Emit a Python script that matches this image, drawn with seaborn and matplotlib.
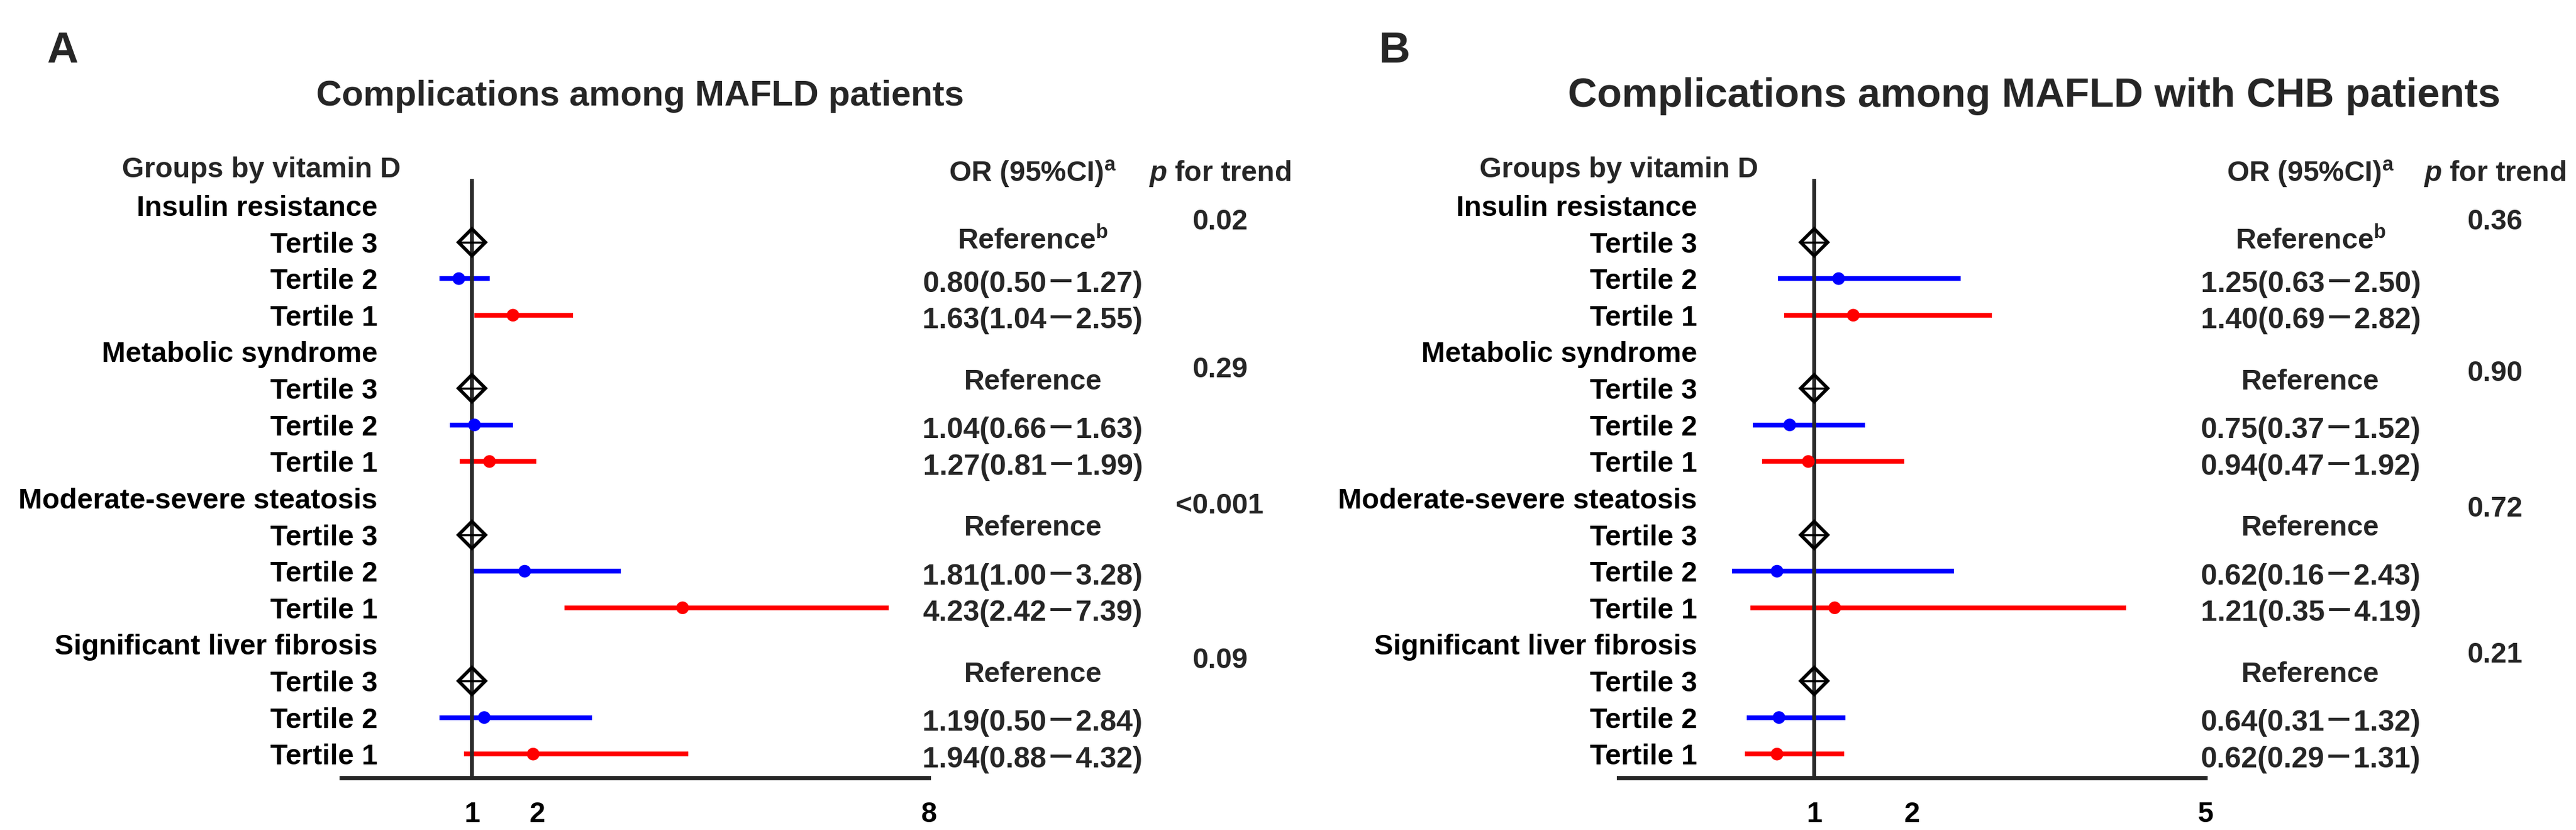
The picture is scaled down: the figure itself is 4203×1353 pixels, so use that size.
import matplotlib
matplotlib.use('Agg')
import matplotlib.pyplot as plt
import matplotlib.transforms as mtransforms
import pandas as pd
import seaborn as sns

# -----------------------------------------------------
# DATA
# -----------------------------------------------------

GROUPS = ['Insulin resistance', 'Metabolic syndrome',
          'Moderate-severe steatosis', 'Significant liver fibrosis']
TERTILES = ['Tertile 3', 'Tertile 2', 'Tertile 1']

# panel A : MAFLD patients
A_OR_T2 = [0.80, 1.04, 1.81, 1.19]
A_LO_T2 = [0.50, 0.66, 1.00, 0.50]
A_HI_T2 = [1.27, 1.63, 3.28, 2.84]
A_OR_T1 = [1.63, 1.27, 4.23, 1.94]
A_LO_T1 = [1.04, 0.81, 2.42, 0.88]
A_HI_T1 = [2.55, 1.99, 7.39, 4.32]
A_P = ['0.02', '0.29', '<0.001', '0.09']
A_XTICKS = [1, 2, 8]

# panel B : MAFLD with CHB patients
B_OR_T2 = [1.25, 0.75, 0.62, 0.64]
B_LO_T2 = [0.63, 0.37, 0.16, 0.31]
B_HI_T2 = [2.50, 1.52, 2.43, 1.32]
B_OR_T1 = [1.40, 0.94, 1.21, 0.62]
B_LO_T1 = [0.69, 0.47, 0.35, 0.29]
B_HI_T1 = [2.82, 1.92, 4.19, 1.31]
B_P = ['0.36', '0.90', '0.72', '0.21']
B_XTICKS = [1, 2, 5]

COLORS = {'Tertile 2': '#0000FF', 'Tertile 1': '#FF0000'}

# -----------------------------------------------------
# LAYOUT (pixels of the 4203 x 1353 canvas)
# -----------------------------------------------------

W, H = 4203, 1353
FS = 33.5
ROW_TOP, ROW_BOTTOM = -0.67, 15.65
P_ROWS_A = [0.45, 4.5, 8.22, 12.45]
P_ROWS_B = [0.45, 4.6, 8.3, 12.3]


def fx(px):
    return px / W


def fy(py):
    return 1 - py / H


def build_table(or2, lo2, hi2, or1, lo1, hi1):
    rows = []
    for g, name in enumerate(GROUPS):
        rows.append(dict(group=name, tertile='Tertile 2', OR=or2[g],
                         lo=lo2[g], hi=hi2[g], row=4 * g + 2))
        rows.append(dict(group=name, tertile='Tertile 1', OR=or1[g],
                         lo=lo1[g], hi=hi1[g], row=4 * g + 3))
    return pd.DataFrame(rows)


def draw_panel(fig, cfg, df, p_values):
    ax = fig.add_axes([fx(cfg['left']), fy(1268),
                       fx(cfg['right'] - cfg['left']), (1268 - 295) / H])
    ax.set_axisbelow(False)

    # confidence intervals + point estimates
    ax.hlines(df['row'], df['lo'], df['hi'],
              colors=df['tertile'].map(COLORS), lw=5.5, zorder=2)
    sns.scatterplot(data=df, x='OR', y='row', hue='tertile', palette=COLORS,
                    s=220, linewidth=0, legend=False, ax=ax, zorder=3)

    # reference tertile (diamond on the line of no effect)
    ref_rows = [4 * g + 1 for g in range(len(GROUPS))]
    ax.plot([1] * len(ref_rows), ref_rows, ls='none', marker='D', ms=22,
            mfc='none', mec='black', mew=4, zorder=4)
    ax.plot([1] * len(ref_rows), ref_rows, ls='none', marker='_', ms=27,
            mec='black', mew=2.5, zorder=4)

    ax.set_xlim(-1, cfg['xticks'][-1])
    ax.set_ylim(ROW_BOTTOM, ROW_TOP)
    ax.set_xlabel('')
    ax.set_ylabel('')

    ax.tick_params(axis='y', direction='out', length=14.5, width=4,
                   pad=cfg['ypad'], colors='black', labelsize=FS)
    ax.tick_params(axis='x', direction='out', length=14.5, width=4.5,
                   pad=13, colors='black', labelsize=FS)

    labels = []
    for name in GROUPS:
        labels += [name] + TERTILES
    ax.set_yticks(range(len(labels)))
    ax.set_yticklabels(labels, fontsize=FS, fontweight='bold')
    ax.set_xticks(cfg['xticks'])
    ax.set_xticklabels([str(t) for t in cfg['xticks']], fontsize=FS, fontweight='bold')

    ax.spines['left'].set_position(('data', 1))
    ax.spines['left'].set_linewidth(4.5)
    ax.spines['bottom'].set_linewidth(5)
    ax.spines['top'].set_visible(False)
    ax.spines['right'].set_visible(False)
    ax.grid(False)

    trans = mtransforms.blended_transform_factory(fig.transFigure, ax.transData)

    # column headers
    ax.text(fx(cfg['group_x']), -0.97, 'Groups by vitamin D', transform=trans,
            ha='right', va='center', fontsize=FS, fontweight='bold')
    ax.text(fx(cfg['or_x']), -0.87, 'OR (95%CI)$^{\\mathrm{a}}$', transform=trans,
            ha='center', va='center', fontsize=FS, fontweight='bold')
    ax.text(fx(cfg['p_x']), -0.87, '$\\mathit{p}$ for trend', transform=trans,
            ha='center', va='center', fontsize=FS, fontweight='bold')

    # OR (95%CI) column
    for g in range(len(GROUPS)):
        if g == 0:
            ax.text(fx(cfg['or_x']), 4 * g + 1 - 0.02, 'Reference$^{\\mathrm{b}}$',
                    transform=trans, ha='center', va='center', fontsize=FS,
                    fontweight='bold')
        else:
            ax.text(fx(cfg['or_x']), 4 * g + 1 - 0.17, 'Reference',
                    transform=trans, ha='center', va='center', fontsize=FS,
                    fontweight='bold')
        sub = df[df['group'] == GROUPS[g]]
        for _, r in sub.iterrows():
            txt = f"{r['OR']:.2f}({r['lo']:.2f}\uff0d{r['hi']:.2f})"
            ax.text(fx(cfg['or_x']), r['row'] + 0.15, txt, transform=trans,
                    ha='center', va='center', fontsize=FS + 1, fontweight='bold')

    # p for trend column
    for p, prow in zip(p_values, cfg['p_rows']):
        ax.text(fx(cfg['p_x']), prow, p, transform=trans, ha='center',
                va='center', fontsize=FS, fontweight='bold')

    fig.text(fx(cfg['tag_x']), fy(84), cfg['tag'], ha='left', va='center',
             fontsize=51, fontweight='bold')
    fig.text(fx(cfg['title_x']), fy(157), cfg['title'], ha='left', va='center',
             fontsize=cfg['title_fs'], fontweight='bold')
    return ax


sns.set_theme(style='white')
plt.rcParams['font.family'] = ['Liberation Sans', 'Noto Sans CJK SC', 'DejaVu Sans']
plt.rcParams['font.weight'] = 'bold'
plt.rcParams['mathtext.fontset'] = 'custom'
plt.rcParams['mathtext.rm'] = 'Liberation Sans:bold'
plt.rcParams['mathtext.it'] = 'Liberation Sans:italic:bold'
plt.rcParams['mathtext.bf'] = 'Liberation Sans:bold'

fig = plt.figure(figsize=(W / 100, H / 100), dpi=100)
fig.patch.set_facecolor('white')

panel_a = dict(left=557, right=1515, xticks=A_XTICKS, ypad=96.5, group_x=654,
               or_x=1685, p_x=1990, p_rows=P_ROWS_A, tag='A', tag_x=76,
               title='Complications among MAFLD patients', title_x=516,
               title_fs=41.5)
panel_b = dict(left=2641, right=3598, xticks=B_XTICKS, ypad=123, group_x=2869,
               or_x=3770, p_x=4070, p_rows=P_ROWS_B, tag='B', tag_x=2249,
               title='Complications among MAFLD with CHB patients', title_x=2558,
               title_fs=47.5)

df_a = build_table(A_OR_T2, A_LO_T2, A_HI_T2, A_OR_T1, A_LO_T1, A_HI_T1)
df_b = build_table(B_OR_T2, B_LO_T2, B_HI_T2, B_OR_T1, B_LO_T1, B_HI_T1)

draw_panel(fig, panel_a, df_a, A_P)
draw_panel(fig, panel_b, df_b, B_P)

fig.savefig('out.png', dpi=100, facecolor='white')
